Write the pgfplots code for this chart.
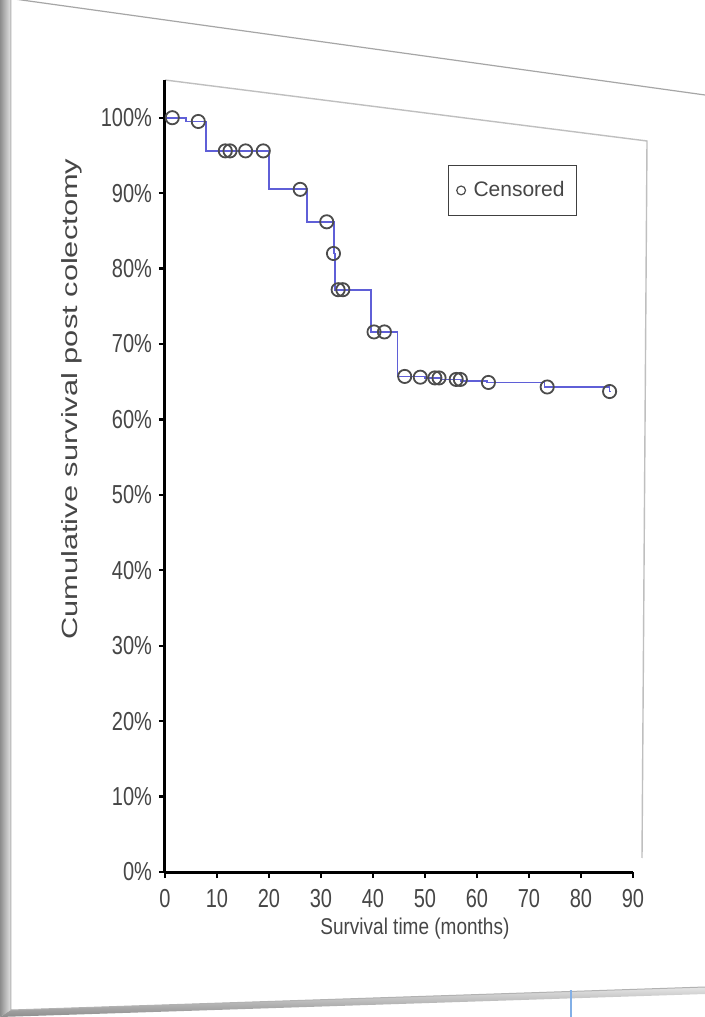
\documentclass[border=0pt]{standalone}
\usepackage{pgfplots}
\pgfplotsset{compat=1.18}
\usepackage{fontspec}
\setmainfont{Liberation Sans}
\usepackage{graphicx}
\definecolor{kmblue}{RGB}{95,95,215}
\definecolor{txt}{RGB}{70,70,70}
\begin{document}
\begin{tikzpicture}
\path[use as bounding box, fill=white] (-82.5pt,-72.5pt) rectangle (270pt,436pt);
% page frame with shadow
\shade[left color=black!45, right color=black!10] (-82.5pt,436pt) -- (-77pt,436pt) -- (-77pt,-69pt) -- (-82.5pt,-72.5pt) -- cycle;
\shade[top color=black!10, bottom color=black!45] (-77pt,-69pt) -- (270pt,-57.5pt) -- (270pt,-61pt) -- (-82.5pt,-72.5pt) -- cycle;
\draw[black!35, line width=0.6pt] (-82.5pt,437.5pt) -- (270pt,388.5pt);
\draw[black!30, line width=0.5pt] (-77pt,436pt) -- (-77pt,-69pt) -- (270pt,-57.5pt);
\draw[color={rgb,255:red,130;green,175;blue,230}, line width=1.2pt] (203pt,-59pt) -- (203pt,-72.5pt);
% plot-area border (light grey, slanted as in the photo)
\draw[black!25, line width=0.7pt] (0pt,396pt) -- (241pt,365.5pt) -- (238.5pt,7pt);
\begin{axis}[
  at={(0,0)}, anchor=south west,
  scale only axis, width=234pt, height=396pt,
  xmin=0, xmax=90, ymin=0, ymax=105,
  axis x line*=bottom, axis y line*=left,
  axis line style={line width=1.5pt, -, black},
  xtick={0,10,...,90}, ytick={0,10,...,100},
  tick style={line width=1.2pt, black},
  tick align=outside, major tick length=3pt,
  /pgf/number format/assume math mode=true,
  xticklabel={\scalebox{1}[1.3]{\pgfmathprintnumber{\tick}}},
  yticklabel={\scalebox{1}[1.3]{\pgfmathprintnumber{\tick}\%}},
  tick label style={font=\fontsize{10}{12}\selectfont, text=txt},
  xticklabel style={yshift=-2pt},
  xlabel={\scalebox{1}[1.2]{Survival time (months)}},
  ylabel={\scalebox{1.4}[1]{Cumulative survival post colectomy}},
  xlabel style={font=\fontsize{9.5}{11}\selectfont, text=txt, at={(axis description cs:0.534,-0.071)}, anchor=center},
  ylabel style={font=\fontsize{11}{13}\selectfont, text=txt, at={(axis description cs:-0.2,0.597)}, anchor=center},
  legend style={at={(0.605,0.893)}, anchor=north west, draw=black!75, line width=0.6pt, font=\fontsize{10.5}{12}\selectfont, text=txt, inner xsep=4pt, inner ysep=6pt},
  legend image post style={mark size=2.2pt, line width=0.6pt},
  clip=false,
]
\addplot[const plot, color=kmblue, line width=0.9pt, forget plot] coordinates {
(0,100) (4,99.5) (7.9,95.6) (20,90.5) (27.3,86.2) (32.5,82) (32.7,77.2)
(39.6,71.6) (44.7,65.7) (50,65.5) (53,65.3) (57,65.1) (62,64.9) (73,64.3) (85.5,63.7) (85.6,63.7)};
\addplot[only marks, mark=o, mark size=3.3pt, black!70, line width=0.9pt] coordinates {
(1.4,100) (6.4,99.5) (11.6,95.6) (12.5,95.6) (15.5,95.6) (18.9,95.6)
(26,90.5) (31.1,86.2) (32.4,82) (33.3,77.2) (34.2,77.2)
(40.2,71.6) (42.2,71.6) (46.1,65.7) (49.1,65.6) (51.9,65.5) (52.7,65.5)
(56,65.3) (56.8,65.3) (62.2,64.9) (73.5,64.3) (85.5,63.7)};
\addlegendentry{\hspace{2pt}Censored}
\end{axis}
\end{tikzpicture}
\end{document}
